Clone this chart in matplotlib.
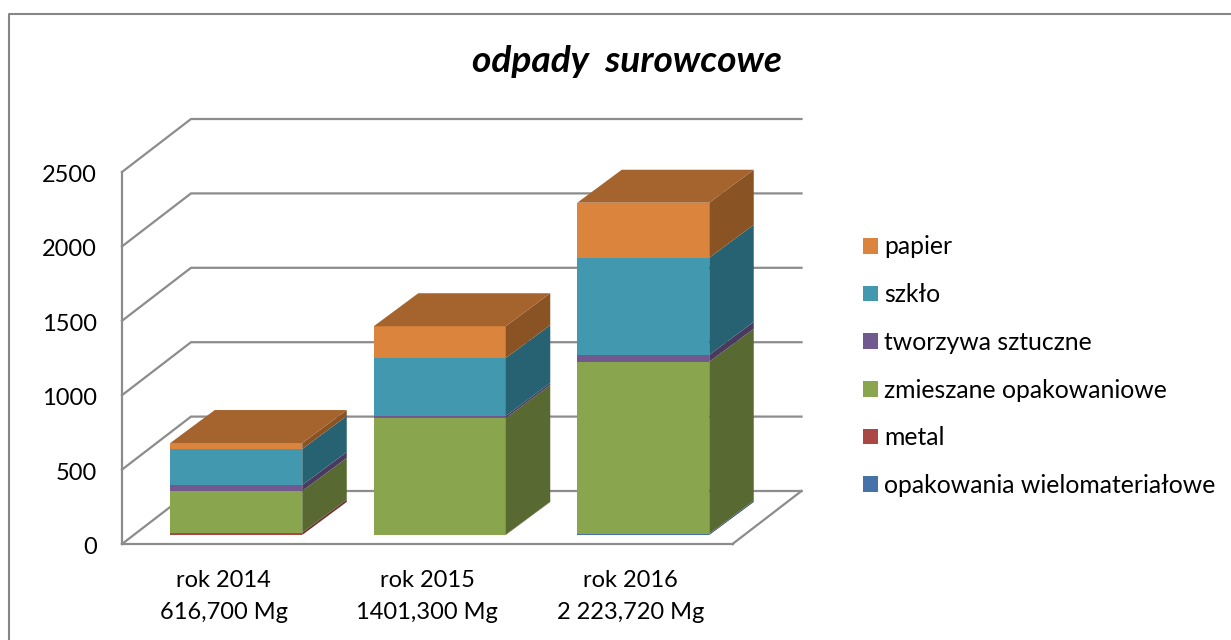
import matplotlib
matplotlib.use("Agg")
import matplotlib.pyplot as plt
from matplotlib.lines import Line2D
from matplotlib.patches import Patch
from matplotlib.transforms import ScaledTranslation

plt.rcParams['font.family'] = ['Lato', 'DejaVu Sans']

## Data
categories = ["rok 2014\n616,700 Mg", "rok 2015\n1401,300 Mg", "rok 2016\n2 223,720 Mg"]
series_names = ["opakowania wielomateriałowe", "metal", "zmieszane opakowaniowe",
                "tworzywa sztuczne", "szkło", "papier"]
wielomaterialowe = [1, 1, 8]
metal = [15, 1, 1]
zmieszane = [280, 784, 1155]
tworzywa = [40, 14, 47]
szklo = [242, 389, 652]
papier = [40, 214, 370]
yticks = [0, 500, 1000, 1500, 2000, 2500]

front_colors = ["#4572A7", "#AA4643", "#89A54E", "#71588F", "#4198AF", "#DB843D"]
side_colors = ["#2C4A6E", "#6E2D2B", "#586A32", "#4B3A60", "#276272", "#8A5324"]
top_color = "#A5642D"
grid_color = "#8C8C8C"

## Layout, pixels of the 1231x640 picture
W, H = 1231, 640
left, right, bottom, top = 122, 732.5, 544, 172
fig = plt.figure(figsize=(W/100, H/100), dpi=100)
ax = fig.add_axes([left/W, 1-bottom/H, (right-left)/W, (bottom-top)/H])
ax.set_xlim(-0.5, 2.5)
ax.set_ylim(0, 2500)

px_x = 3/(right-left)       # data units per pixel
px_y = 2500/(bottom-top)

floor_dx, floor_dy = 69*px_x, 53*px_y
bar_w = 132*px_x
bar_dx, bar_dy = 44.5*px_x, 33*px_y
gap_x, gap_y = 12.5*px_x, 9*px_y

# walls and floor
for v in yticks:
    ax.plot([-0.5, -0.5+floor_dx, 2.5+floor_dx], [v, v+floor_dy, v+floor_dy],
            color=grid_color, lw=1.6, clip_on=False, zorder=1, solid_joinstyle="miter")
ax.plot([2.5+floor_dx, 2.5], [floor_dy, 0], color=grid_color, lw=1.6, clip_on=False, zorder=1)

# the stacked blocks, left to right, bottom to top
values = [wielomaterialowe, metal, zmieszane, tworzywa, szklo, papier]
for i in range(len(categories)):
    x0 = i+gap_x-bar_w/2
    x1 = x0+bar_w
    y = gap_y
    for s, vals in enumerate(values):
        y1 = y+vals[i]
        ax.fill([x0, x1, x1, x0], [y, y, y1, y1], color=front_colors[s], lw=0, clip_on=False, zorder=3)
        ax.fill([x1, x1+bar_dx, x1+bar_dx, x1], [y, y+bar_dy, y1+bar_dy, y1],
                color=side_colors[s], lw=0, clip_on=False, zorder=3)
        y = y1
    ax.fill([x0, x1, x1+bar_dx, x0+bar_dx], [y, y, y+bar_dy, y+bar_dy],
            color=top_color, lw=0, clip_on=False, zorder=3)

for sp in ["top", "right"]:
    ax.spines[sp].set_visible(False)
for sp in ["left", "bottom"]:
    ax.spines[sp].set_color(grid_color)
    ax.spines[sp].set_linewidth(1.6)
ax.patch.set_visible(False)

ax.set_yticks(yticks)
ax.set_xticks(range(len(categories)))
ax.set_xticklabels(categories, linespacing=1.66)
ax.tick_params(axis="both", length=0, labelsize=17, labelcolor="black")
ax.tick_params(axis="y", pad=18)
ax.tick_params(axis="x", pad=18.5)

# y labels sit a little lower than the gridline corners
shift = ScaledTranslation(0, -1.5/100, fig.dpi_scale_trans)
for lab in ax.get_yticklabels():
    lab.set_transform(lab.get_transform()+shift)

# chart frame, only top and left show in the crop
fig.add_artist(Line2D([8.5/W, 8.5/W, 1], [0, 1-13.5/H, 1-13.5/H], color="#868686", lw=1.5))

fig.text(626.5/W, 1-61/H, "odpady  surowcowe", fontsize=26.7, fontweight="bold", fontstyle="italic",
         ha="center", va="center")

handles = [Patch(color=c, lw=0) for c in front_colors[::-1]]
fig.legend(handles, series_names[::-1], loc="upper left", bbox_to_anchor=(856/W, 1-228/H),
           frameon=False, fontsize=17.8, handlelength=0.6, handleheight=0.6, handletextpad=0.25,
           labelspacing=1.0, borderpad=0.3, borderaxespad=0, labelcolor="black")

fig.savefig("out.png", dpi=100)
